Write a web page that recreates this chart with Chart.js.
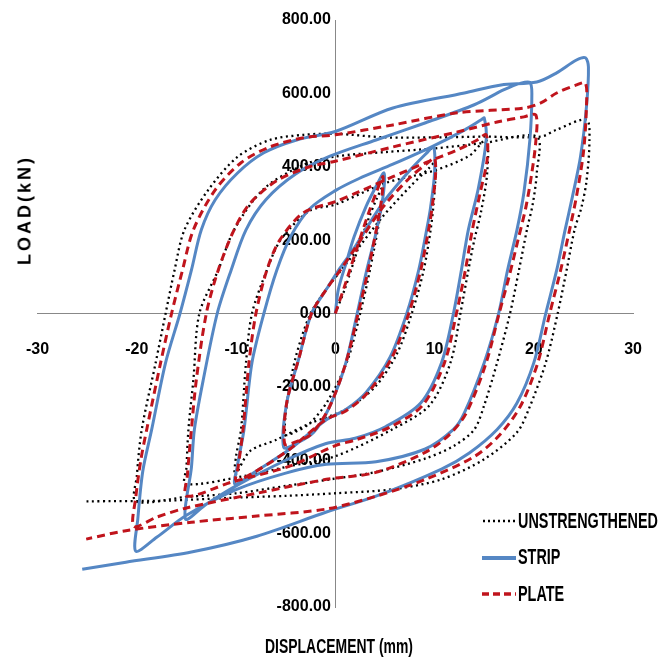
<!DOCTYPE html>
<html lang="en">
<head>
<meta charset="UTF-8">
<title>Load vs displacement</title>
<script src="https://cdn.jsdelivr.net/npm/chart.js"></script>
<style>
  body { margin: 0; background: #fff; }
  .wrap { position: relative; width: 668px; height: 662px; }
  canvas { position: absolute; left: 0; top: 0; }
  .ytitle, .xtitle, .legend { position: absolute; font-family: 'Liberation Sans', Arial, sans-serif; font-weight: bold; color: #000; white-space: nowrap; }
  .ytitle { left: 25px; top: 210px; transform: translate(-50%, -50%) rotate(-90deg); font-size: 18px; letter-spacing: 3px; }
  .xtitle { left: 339px; top: 647px; transform: translate(-50%, -50%) scale(0.82, 1.2); font-size: 17px; }
  .legend { left: 482px; top: 503px; }
  .legend .row { display: flex; align-items: center; height: 36.5px; }
  .legend svg { width: 34px; height: 10px; margin-right: 2px; flex: none; }
  .legend span { font-size: 18px; display: inline-block; transform: scale(0.8, 1.2); transform-origin: left center; }
</style>
</head>
<body>
<div class="wrap">
  <canvas id="grafico" width="668" height="662"></canvas>
  <div class="ytitle">LOAD(kN)</div>
  <div class="xtitle">DISPLACEMENT (mm)</div>
  <div class="legend">
    <div class="row"><svg><line x1="1" y1="5" x2="33" y2="5" stroke="#000" stroke-width="2.5" stroke-dasharray="2 3"/></svg><span>UNSTRENGTHENED</span></div>
    <div class="row"><svg><line x1="0" y1="5" x2="34" y2="5" stroke="#5587C4" stroke-width="4"/></svg><span>STRIP</span></div>
    <div class="row"><svg><line x1="0" y1="5" x2="34" y2="5" stroke="#C0141C" stroke-width="3.5" stroke-dasharray="7 4"/></svg><span>PLATE</span></div>
  </div>
</div>

<script>
// eixos
const xTicks = [-30, -20, -10, 0, 10, 20, 30];
const yTicks = [-800, -600, -400, -200, 0, 200, 400, 600, 800];

// curvas histereticas [deslocamento (mm), carga (kN)] - um ramo por linha
const unstrengthened = [
  [0,0],[1,70],[2.2,170],[3.3,255],[4.2,315],[4.8,345],
  [4.6,280],[3.5,120],[2.5,0],[1.2,-130],[-0.8,-240],[-2.6,-300],[-4,-322],[-5,-330],
  [-4.9,-250],[-4,-120],[-2.5,0],[-0.8,70],[0.5,115],[1.8,160],[4.8,265],[7.5,345],[9.5,398],[10,411],
  [10.1,384],[9.9,300],[9.6,228],[8.9,118],[7.7,0],[6.2,-110],[4,-200],[1,-262],[-2.6,-300],[-6,-345],[-8.6,-375],[-10.1,-440],
  [-10,-389],[-9.5,-316],[-9.0,-134],[-8.4,0],[-6.9,118],[-5.5,201],[-2.6,280],[0,297],[5.1,356],[10,390],[13.5,430],[15.2,473],
  [15.3,384],[14.7,280],[14,200],[13.4,118],[12.6,0],[11.6,-134],[9.5,-250],[5.8,-315],[0,-389],[-4.6,-416],[-9.2,-443],[-15.1,-465],
  [-15,-420],[-14.8,-316],[-14.3,-180],[-13.7,0],[-11.8,118],[-10.2,228],[-7.2,340],[-3.2,405],[0,428],[5,440],[10,450],[15,465],[20.3,482],
  [20.3,384],[19.9,300],[19.3,228],[18.5,118],[17.6,0],[16.3,-134],[15,-250],[14,-316],[12,-360],[9.1,-395],[4.1,-432],[0,-450],[-5,-470],[-10,-490],[-15,-500],[-20.1,-512],
  [-20,-443],[-19.5,-316],[-18.1,-134],[-17.1,0],[-16.2,118],[-15.2,228],[-12.8,337],[-9.85,427],[-6.6,473],[-3.2,487],[0,490],[5,480],[10,480],[15,482],[20.7,482],[22.3,501],[25.3,528],
  [25.6,470],[25.3,360],[24.8,290],[24.1,228],[23.3,118],[22.4,0],[21.2,-134],[19.5,-260],[18.3,-324],[15,-397],[10.7,-452],[5.8,-479],[0,-490],[-5,-497],[-11.1,-503],[-16.8,-510],[-25.2,-512]
];

const strip = [
  [0,0],[0.3,65],[1.1,139],[1.9,210],[3.1,292],[4.1,346],[4.9,383],
  [4.8,318],[4.1,220],[3.1,111],[2.2,0],[1.0,-140],[-0.7,-261],[-2.2,-324],[-3.8,-352],[-5.2,-365],
  [-4.9,-244],[-3.7,-125],[-2.4,0],[-0.8,70],[0.5,125],[1.8,174],[4.8,302],[7.5,390],[9.3,440],[9.9,455],
  [10,384],[9.6,290],[9.2,228],[8.4,118],[7.2,0],[5.5,-120],[3.1,-215],[1.1,-261],[-0.9,-290],[-4.6,-370],[-8,-430],[-10.1,-465],
  [-9.9,-420],[-9.2,-316],[-8.4,-134],[-7.2,0],[-5.9,118],[-4.5,210],[-2.6,285],[0,335],[2.4,368],[5.8,407],[9.75,455],[13,500],[14.7,528],[15,533],
  [15.2,473],[14.4,340],[13.4,228],[12.7,118],[11.9,0],[10.7,-134],[8.6,-244],[5.1,-308],[2,-340],[-1,-355],[-5,-400],[-10,-470],[-13,-520],[-15.1,-560],
  [-14.5,-420],[-14.2,-316],[-13.3,-180],[-11.9,0],[-10.5,118],[-9.0,228],[-7,310],[-4,380],[-0.6,428],[4.1,473],[9.1,520],[14,569],[17,610],[18.7,628],[19.6,630],
  [19.8,600],[19.6,473],[19,330],[18.3,228],[17.35,118],[16.45,0],[15,-134],[13,-271],[11.9,-316],[9,-370],[4.1,-404],[-0.9,-411],[-5,-435],[-10,-480],[-15,-550],[-18,-610],[-20.1,-648],
  [-19.9,-560],[-19.4,-430],[-18.5,-316],[-17.1,-134],[-15.65,0],[-14.5,118],[-13.5,228],[-12.1,310],[-9.85,383],[-7.2,438],[-3.9,473],[0,496],[5.8,560],[13,601],[16.7,623],[20.3,631],[22.3,656],[24.3,691],[25.2,697],
  [25.5,672],[25.3,563],[24.7,427],[23.9,320],[23.15,228],[22.3,118],[21.2,0],[20,-134],[18.3,-244],[16.3,-316],[13.5,-380],[10.7,-424],[4.1,-498],[-0.9,-541],[-7.9,-607],[-14.5,-650],[-21.1,-678],[-25.5,-697]
];

const plate = [
  [0,0],[1,80],[2.2,180],[3.3,270],[4.2,335],[4.8,373],
  [4.6,300],[3.4,130],[2.3,0],[1,-140],[-0.7,-261],[-2.5,-330],[-4,-350],[-5.1,-356],
  [-4.9,-244],[-3.7,-125],[-2.4,0],[-0.8,70],[0.5,118],[1.8,170],[4.8,290],[7.5,370],[9.5,415],[10,424],
  [10.1,380],[9.8,300],[9.4,228],[8.6,118],[7.4,0],[5.7,-120],[3.3,-215],[1.1,-265],[-1,-290],[-4.6,-370],[-8,-430],[-10,-455],
  [-9.8,-420],[-9.3,-316],[-8.7,-134],[-8.0,0],[-6.9,118],[-5.6,200],[-3.2,275],[0,305],[2.4,332],[5.8,373],[9.1,411],[12.3,446],[14.3,473],[15.2,487],
  [15.3,420],[14.6,330],[13.8,228],[13.1,118],[12.2,0],[11,-134],[8.8,-250],[5.5,-310],[2,-345],[0,-360],[-4.6,-416],[-10.5,-460],[-15,-498],
  [-14.9,-440],[-14.5,-316],[-14,-180],[-13,0],[-11.8,118],[-10.2,228],[-8.6,300],[-5.9,362],[-2.6,400],[0,415],[5.8,454],[12.3,495],[16.3,522],[19,536],[20.2,541],
  [20.2,470],[19.8,384],[19.2,290],[18.4,200],[17.5,100],[16.5,0],[15.2,-134],[13.2,-271],[11.5,-330],[9.1,-378],[4.1,-433],[-0.9,-452],[-7.9,-490],[-15,-530],[-18,-555],[-20.3,-580],
  [-20.1,-500],[-19.6,-400],[-19,-316],[-17.6,-134],[-16.5,0],[-15.4,118],[-14.3,228],[-12.1,337],[-9.5,411],[-6.6,454],[-3.2,479],[0,487],[5.8,514],[12.3,547],[19,560],[20.7,574],[22.3,601],[24.3,623],[25.2,628],
  [25.3,563],[25,440],[24.3,320],[23.6,228],[22.7,118],[21.6,0],[20.4,-134],[18.7,-250],[16.6,-330],[14,-390],[9.1,-452],[4.1,-498],[-0.9,-533],[-7.9,-552],[-14.5,-569],[-21.1,-592],[-25.1,-615]
];

function pontos(lista) {
  return lista.map(function (p) { return { x: p[0], y: p[1] }; });
}

const fonteEixo = { family: "'Liberation Sans', Arial, sans-serif", size: 16, weight: 'bold' };

const config = {
  type: 'scatter',
  data: {
    datasets: [
      {
        label: 'PLATE',
        data: pontos(plate),
        showLine: true,
        borderColor: '#C0141C',
        borderWidth: 3,
        borderDash: [8, 5],
        pointRadius: 0,
        tension: 0.3
      },
      {
        label: 'STRIP',
        data: pontos(strip),
        showLine: true,
        borderColor: '#5587C4',
        borderWidth: 3,
        pointRadius: 0,
        tension: 0.3
      },
      {
        label: 'UNSTRENGTHENED',
        data: pontos(unstrengthened),
        showLine: true,
        borderColor: '#000000',
        borderWidth: 2.3,
        borderDash: [2, 3.5],
        pointRadius: 0,
        tension: 0.3
      }
    ]
  },
  options: {
    responsive: false,
    animation: false,
    layout: { padding: { left: 37, right: 28, top: 20, bottom: 55 } },
    plugins: {
      legend: { display: false },
      tooltip: { enabled: false }
    },
    scales: {
      x: {
        type: 'linear',
        position: { y: 0 },
        min: -30,
        max: 30,
        afterBuildTicks: function (escala) { escala.ticks = xTicks.map(function (v) { return { value: v }; }); },
        ticks: { color: '#000', font: fonteEixo, padding: 26, maxRotation: 0, callback: function (v) { return v; } },
        grid: { drawOnChartArea: false, drawTicks: false },
        border: { color: '#888888', width: 1 }
      },
      y: {
        type: 'linear',
        position: { x: 0 },
        min: -800,
        max: 800,
        afterBuildTicks: function (escala) { escala.ticks = yTicks.map(function (v) { return { value: v }; }); },
        // espaco no fim afasta o rotulo da linha do eixo
        ticks: { color: '#000', font: fonteEixo, padding: 0, callback: function (v) { return v.toFixed(2) + ' '; } },
        grid: { drawOnChartArea: false, drawTicks: false },
        border: { color: '#888888', width: 1 }
      }
    }
  }
};

let myChart = new Chart(document.getElementById('grafico'), config);
</script>
</body>
</html>
